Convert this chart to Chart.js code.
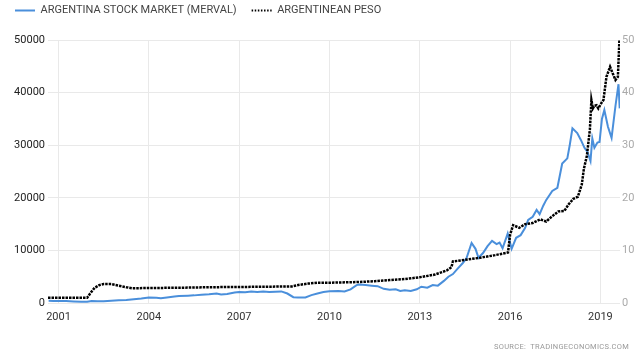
<!DOCTYPE html>
<html>
<head>
<meta charset="utf-8">
<script src="https://cdn.jsdelivr.net/npm/chart.js@4/dist/chart.umd.min.js"></script>
<style>
  html, body { margin: 0; padding: 0; background: #fff; }
  #wrap { position: relative; width: 640px; height: 355px; }
  #source { position: absolute; right: 11px; top: 342px; font: 7.5px Roboto, 'Liberation Sans', sans-serif; color: #999; letter-spacing: 0.3px; }
</style>
</head>
<body>
<div id="wrap">
  <canvas id="c" width="640" height="355"></canvas>
  <div id="source">SOURCE:&nbsp; TRADINGECONOMICS.COM</div>
</div>
<script>
// ---- data (decimal years) ----
const SERIES_NAMES = ['ARGENTINA STOCK MARKET (MERVAL)', 'ARGENTINEAN PESO'];

const MERVAL_DATES = [2000.67, 2000.83, 2001.0, 2001.25, 2001.5, 2001.75, 2001.95, 2002.1, 2002.3, 2002.5, 2002.75,
  2003.0, 2003.25, 2003.5, 2003.75, 2004.0, 2004.25, 2004.4, 2004.6, 2004.85, 2005.0, 2005.3, 2005.5, 2005.75,
  2006.0, 2006.25, 2006.4, 2006.6, 2006.85, 2007.0, 2007.2, 2007.4, 2007.6, 2007.8, 2008.0, 2008.2, 2008.4,
  2008.6, 2008.8, 2008.95, 2009.2, 2009.4, 2009.6, 2009.8, 2010.0, 2010.3, 2010.5, 2010.7, 2010.9, 2011.0,
  2011.2, 2011.4, 2011.6, 2011.8, 2012.0, 2012.2, 2012.35, 2012.5, 2012.7, 2012.9, 2013.05, 2013.25, 2013.43,
  2013.6, 2013.8, 2013.95, 2014.1, 2014.25, 2014.43, 2014.55, 2014.72, 2014.85, 2014.95, 2015.1, 2015.25,
  2015.4, 2015.55, 2015.65, 2015.75, 2015.92, 2016.05, 2016.2, 2016.35, 2016.5, 2016.6, 2016.75, 2016.88,
  2016.98, 2017.1, 2017.2, 2017.4, 2017.57, 2017.73, 2017.9, 2017.98, 2018.07, 2018.23, 2018.35, 2018.47,
  2018.57, 2018.67, 2018.73, 2018.8, 2018.9, 2018.97, 2019.05, 2019.13, 2019.25, 2019.37, 2019.5, 2019.6, 2019.64];
const MERVAL_VALUES = [420, 400, 390, 380, 300, 230, 260, 400, 350, 330, 450,
  520, 580, 700, 850, 1050, 1000, 900, 1050, 1250, 1350, 1400, 1450, 1550,
  1650, 1800, 1600, 1700, 2000, 2100, 2050, 2200, 2100, 2200, 2100, 2150, 2200,
  1800, 1100, 1050, 1050, 1500, 1800, 2100, 2250, 2300, 2200, 2600, 3400, 3500,
  3400, 3300, 3200, 2700, 2500, 2600, 2300, 2400, 2300, 2600, 3100, 2900, 3400,
  3300, 4200, 5000, 5500, 6500, 7600, 8500, 11400, 10300, 8600, 9500, 10800,
  11800, 11200, 11500, 10400, 13200, 10300, 12400, 12900, 14300, 15800, 16400, 17700,
  16900, 18500, 19600, 21300, 21900, 26500, 27500, 30000, 33200, 32300, 31000, 29500,
  28700, 27000, 31300, 29500, 30500, 30600, 35000, 36700, 33500, 31400, 37500, 41600, 37000];

const PESO_DATES = [2000.65, 2001.95, 2002.05, 2002.2, 2002.35, 2002.5, 2002.75, 2003.0, 2003.25, 2003.45,
  2004.0, 2005.0, 2006.0, 2007.0, 2008.0, 2008.75, 2009.0, 2009.3, 2009.6, 2010.0, 2011.0, 2011.5, 2012.0,
  2012.5, 2013.0, 2013.5, 2013.9, 2014.05, 2014.1, 2014.5, 2015.0, 2015.5, 2015.93, 2016.0, 2016.1, 2016.3,
  2016.5, 2016.75, 2017.0, 2017.2, 2017.4, 2017.6, 2017.8, 2017.95, 2018.1, 2018.25, 2018.38, 2018.45,
  2018.55, 2018.65, 2018.7, 2018.75, 2018.8, 2018.87, 2018.93, 2019.03, 2019.1, 2019.2, 2019.32, 2019.42,
  2019.5, 2019.58, 2019.63];
const PESO_VALUES = [1.0, 1.0, 1.8, 2.9, 3.4, 3.6, 3.6, 3.3, 3.0, 2.8,
  2.85, 2.9, 3.0, 3.05, 3.1, 3.15, 3.45, 3.7, 3.85, 3.85, 4.0, 4.15, 4.35,
  4.55, 4.9, 5.4, 6.2, 6.8, 7.9, 8.2, 8.6, 9.1, 9.6, 13.0, 14.8, 14.3,
  15.0, 15.2, 15.9, 15.5, 16.5, 17.4, 17.5, 18.8, 19.8, 20.2, 22.5, 25.5,
  28.0, 33.0, 38.6, 37.0, 37.5, 37.6, 37.0, 38.0, 38.6, 43.0, 44.9, 43.5,
  42.4, 43.0, 50.0];

const X_TICKS = [2001, 2004, 2007, 2010, 2013, 2016, 2019];
const LEFT_TICKS = [0, 10000, 20000, 30000, 40000, 50000];
const RIGHT_TICKS = [0, 10, 20, 30, 40, 50];

const FONT = "Roboto, 'Liberation Sans', sans-serif";

const legendSpacer = {
  id: 'legendSpacer',
  beforeInit(chart) {
    const fit = chart.legend.fit;
    chart.legend.fit = function () {
      fit.bind(chart.legend)();
      this.height = 50;
    };
  }
};

new Chart(document.getElementById('c'), {
  type: 'line',
  data: {
    datasets: [
      {
        label: SERIES_NAMES[0],
        data: MERVAL_DATES.map((d, i) => ({ x: d, y: MERVAL_VALUES[i] })),
        yAxisID: 'y',
        borderColor: '#4a8fdb',
        backgroundColor: '#4a8fdb',
        borderWidth: 2,
        pointRadius: 0,
        tension: 0,
        order: 1
      },
      {
        label: SERIES_NAMES[1],
        data: PESO_DATES.map((d, i) => ({ x: d, y: PESO_VALUES[i] })),
        yAxisID: 'y1',
        borderColor: '#000',
        backgroundColor: '#000',
        borderWidth: 2.5,
        borderDash: [2.5, 1],
        pointRadius: 0,
        tension: 0,
        order: 0
      }
    ]
  },
  options: {
    responsive: false,
    animation: false,
    devicePixelRatio: 1,
    layout: { padding: { top: -10, left: 0, right: 0, bottom: 0 } },
    plugins: {
      legend: {
        position: 'top',
        align: 'start',
        labels: {
          usePointStyle: true,
          pointStyle: 'line',
          pointStyleWidth: 20,
          boxWidth: 20,
          padding: 15,
          color: '#444',
          font: { family: FONT, size: 11 },
          sort: (a, b) => a.datasetIndex - b.datasetIndex,
          generateLabels(chart) {
            const items = Chart.defaults.plugins.legend.labels.generateLabels(chart);
            items.forEach(it => {
              it.pointStyle = 'line';
              if (it.datasetIndex === 1) { it.lineDash = [1.5, 1.6]; it.lineWidth = 2; }
            });
            return items;
          }
        }
      },
      tooltip: { enabled: false }
    },
    scales: {
      x: {
        type: 'linear',
        min: 2000.65,
        max: 2019.65,
        afterBuildTicks(s) { s.ticks = X_TICKS.map(v => ({ value: v })); },
        afterFit(s) { s.height = 52; },
        ticks: {
          autoSkip: false,
          maxRotation: 0,
          padding: 8,
          color: '#333',
          font: { family: FONT, size: 11 },
          callback: v => String(v)
        },
        grid: { color: '#e9e9e9', drawTicks: false },
        border: { display: false }
      },
      y: {
        position: 'left',
        min: 0,
        max: 50000,
        afterBuildTicks(s) { s.ticks = LEFT_TICKS.map(v => ({ value: v })); },
        afterFit(s) { s.width = 48; },
        ticks: {
          padding: 3,
          color: '#222',
          font: { family: FONT, size: 11 },
          callback: v => String(v)
        },
        grid: { color: '#e9e9e9', drawTicks: false },
        border: { display: false }
      },
      y1: {
        position: 'right',
        min: 0,
        max: 50,
        afterBuildTicks(s) { s.ticks = RIGHT_TICKS.map(v => ({ value: v })); },
        afterFit(s) { s.width = 20; },
        ticks: {
          padding: 2,
          color: '#aaa',
          font: { family: FONT, size: 11 },
          callback: v => String(v)
        },
        grid: { display: false, drawTicks: false },
        border: { display: false }
      }
    }
  },
  plugins: [legendSpacer]
});
</script>
</body>
</html>
